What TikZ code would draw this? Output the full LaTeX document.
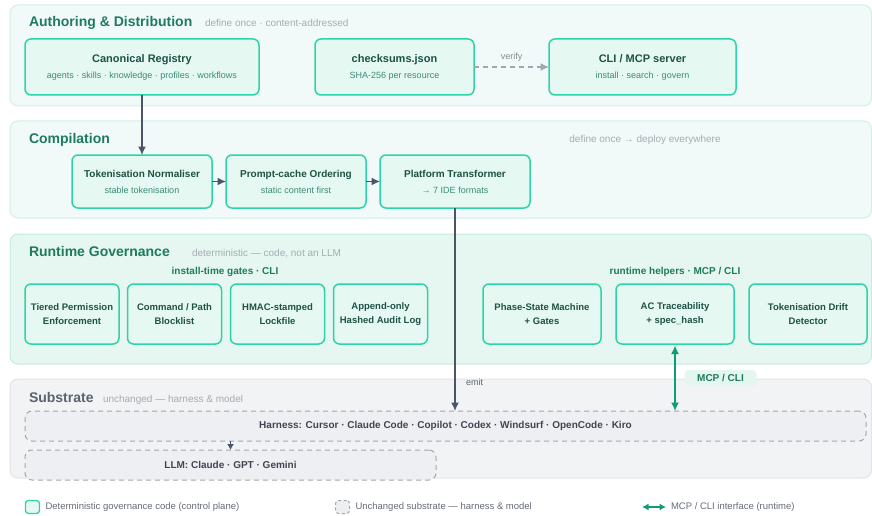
\documentclass[tikz,border=0pt]{standalone}
\usepackage{fontspec}
\setmainfont{Liberation Sans}
\usetikzlibrary{arrows.meta,positioning}
\definecolor{bandfill}{HTML}{F1FAF8}
\definecolor{bandline}{HTML}{D3EEE6}
\definecolor{govfill}{HTML}{E6F6F0}
\definecolor{govline}{HTML}{C6EADF}
\definecolor{subfill}{HTML}{F2F3F5}
\definecolor{subline}{HTML}{E1E3E7}
\definecolor{subbox}{HTML}{EEEFF2}
\definecolor{boxline}{HTML}{2DD4A7}
\definecolor{boxfill}{HTML}{E6F8F2}
\definecolor{titlegreen}{HTML}{1E7B60}
\definecolor{boxtitle}{HTML}{1E5245}
\definecolor{boxsub}{HTML}{3A8B77}
\definecolor{notegray}{HTML}{A3ADB2}
\definecolor{arrowdark}{HTML}{4A5568}
\definecolor{arrowgreen}{HTML}{0E9C76}
\definecolor{dashgray}{HTML}{A2A6AE}
\definecolor{subtitle}{HTML}{5B6370}
\definecolor{subtext}{HTML}{3F4652}
\definecolor{pillfill}{HTML}{E3F6EF}
\newcommand{\boxtext}[3][11]{{\fontsize{#1}{13}\selectfont\bfseries\color{boxtitle}#2}\\[4pt]{\fontsize{9}{11}\selectfont\color{boxsub}#3}}
\begin{document}
\begin{tikzpicture}[x=1pt,y=-1pt,inner sep=0pt,outer sep=0pt,>={Latex[length=8.5pt,width=8pt]},
band/.style={draw=#1line,fill=#1fill,line width=1pt,rounded corners=8pt},
gbox/.style={draw=boxline,fill=boxfill,line width=1.5pt,rounded corners=6pt,align=center},
rbox/.style={gbox,minimum height=60pt,font=\fontsize{9.5}{14}\selectfont\bfseries,text=boxtitle},
sbox/.style={draw=dashgray,fill=subbox,line width=1pt,dash pattern=on 5pt off 4pt,rounded corners=7pt,
  font=\fontsize{10}{12}\selectfont\bfseries,text=subtext},
bandtitle/.style={anchor=base west,font=\fontsize{14}{16}\selectfont\bfseries,text=titlegreen},
bandnote/.style={anchor=base west,font=\fontsize{10}{12}\selectfont,text=notegray},
grouplabel/.style={font=\fontsize{10}{12}\selectfont\bfseries,text=titlegreen},
smalltext/.style={font=\fontsize{9}{11}\selectfont,text=#1},
legendtext/.style={anchor=west,font=\fontsize{9.5}{11}\selectfont,text=subtext!80!white}]
\useasboundingbox (0,0) rectangle (872,516);

% bands
\draw[band=band] (10,5) rectangle (871.5,106);
\draw[band=band] (10,121) rectangle (871.5,218);
\draw[band=gov] (10,234) rectangle (871.5,364);
\draw[band=sub] (10,379) rectangle (871.5,478);

% authoring & distribution
\node[bandtitle] (authtitle) at (29,27) {Authoring \& Distribution};
\node[bandnote] (authnote) at (205,27) {define once · content-addressed};
\node[gbox,minimum width=234pt,minimum height=56pt] (registry) at (142,67)
  {\boxtext{Canonical Registry}{agents · skills · knowledge · profiles · workflows}};
\node[gbox,minimum width=159pt,minimum height=56pt] (checksums) at (394.5,67)
  {\boxtext{checksums.json}{SHA-256 per resource}};
\node[gbox,minimum width=187pt,minimum height=56pt] (cliserver) at (642.5,67)
  {\boxtext{CLI / MCP server}{install · search · govern}};
\draw[->,dashgray,line width=1.2pt,dash pattern=on 5pt off 4pt] (checksums.east) -- (cliserver.west)
  node[midway,above=6pt,smalltext=notegray!80!black] (verify) {verify};

% compilation
\node[bandtitle] (comptitle) at (29,143) {Compilation};
\node[bandnote,anchor=base] (compnote) at (645,142.5) {define once → deploy everywhere};
\node[gbox,minimum width=140pt,minimum height=53pt] (tok) at (142,181.5)
  {\boxtext[10]{Tokenisation Normaliser}{stable tokenisation}};
\node[gbox,minimum width=140pt,minimum height=53pt,right=14pt of tok] (cache)
  {\boxtext[10]{Prompt-cache Ordering}{static content first}};
\node[gbox,minimum width=150pt,minimum height=53pt,right=14pt of cache] (platform)
  {\boxtext[10]{Platform Transformer}{→ 7 IDE formats}};
\draw[->,arrowdark,line width=1.5pt] (registry.south) -- (tok.north);
\draw[->,arrowdark,line width=1.5pt] (tok.east) -- (cache.west);
\draw[->,arrowdark,line width=1.5pt] (cache.east) -- (platform.west);

% runtime governance
\node[bandtitle] (govtitle) at (29,256) {Runtime Governance};
\node[bandnote] (govnote) at (192,256) {deterministic — code, not an LLM};
\node[grouplabel] (installgates) at (225,272) {install-time gates · CLI};
\node[grouplabel] (helpers) at (675,272) {runtime helpers · MCP / CLI};
\node[rbox,minimum width=94pt] (tiered) at (72,314) {Tiered Permission\\Enforcement};
\node[rbox,minimum width=94pt] (blocklist) at (174.5,314) {Command / Path\\Blocklist};
\node[rbox,minimum width=94pt] (lockfile) at (277.5,314) {HMAC-stamped\\Lockfile};
\node[rbox,minimum width=94pt] (audit) at (380.5,314) {Append-only\\Hashed Audit Log};
\node[rbox,minimum width=118pt] (phase) at (542,314) {Phase-State Machine\\+ Gates};
\node[rbox,minimum width=118pt] (trace) at (675,314) {AC Traceability\\+ spec\_hash};
\node[rbox,minimum width=118pt] (drift) at (808,314) {Tokenisation Drift\\Detector};

% substrate
\node[bandtitle,text=subtitle] (subtitlenode) at (29,402) {Substrate};
\node[bandnote,font=\fontsize{10}{12}\selectfont] (subnote) at (103,402) {unchanged — harness \& model};
\node[sbox,minimum width=841pt,minimum height=30pt] (harness) at (445.5,426)
  {Harness: Cursor · Claude Code · Copilot · Codex · Windsurf · OpenCode · Kiro};
\node[sbox,minimum width=411pt,minimum height=30pt] (llm) at (230.5,465) {LLM: Claude · GPT · Gemini};
\draw[->,arrowdark,line width=1.2pt,>={Latex[length=6pt,width=7pt]}] (harness.south -| llm) -- (llm.north);

% emit and MCP / CLI connectors
\draw[->,arrowdark,line width=1.5pt] (platform.south) -- (harness.north -| platform)
  node[pos=0.86,right=11pt,smalltext=subtitle] (emit) {emit};
\draw[<->,arrowgreen,line width=1.5pt,shorten <=1.5pt] (trace.south) -- (harness.north -| trace);
\node[fill=pillfill,rounded corners=4pt,minimum width=72pt,minimum height=16pt,grouplabel] (mcppill) at (720.5,378) {MCP / CLI};

% legend
\node[draw=boxline,fill=boxfill,line width=1.3pt,rounded corners=3pt,minimum width=14pt,minimum height=13pt] (leggov) at (32.5,507) {};
\node[legendtext,right=6pt of leggov] (leggovtext) {Deterministic governance code (control plane)};
\node[draw=dashgray,fill=subbox,line width=1pt,dash pattern=on 3pt off 2.5pt,rounded corners=3pt,minimum width=14pt,minimum height=13pt] (legsub) at (342.5,507) {};
\node[legendtext,right=6pt of legsub] (legsubtext) {Unchanged substrate — harness \& model};
\coordinate (legarrowa) at (642,507);
\coordinate (legarrowb) at (666,507);
\draw[<->,arrowgreen,line width=1.5pt,>={Latex[length=6.5pt,width=7pt]}] (legarrowa) -- (legarrowb);
\node[legendtext,right=5pt of legarrowb] (legarrowtext) {MCP / CLI interface (runtime)};
\end{tikzpicture}
\end{document}
